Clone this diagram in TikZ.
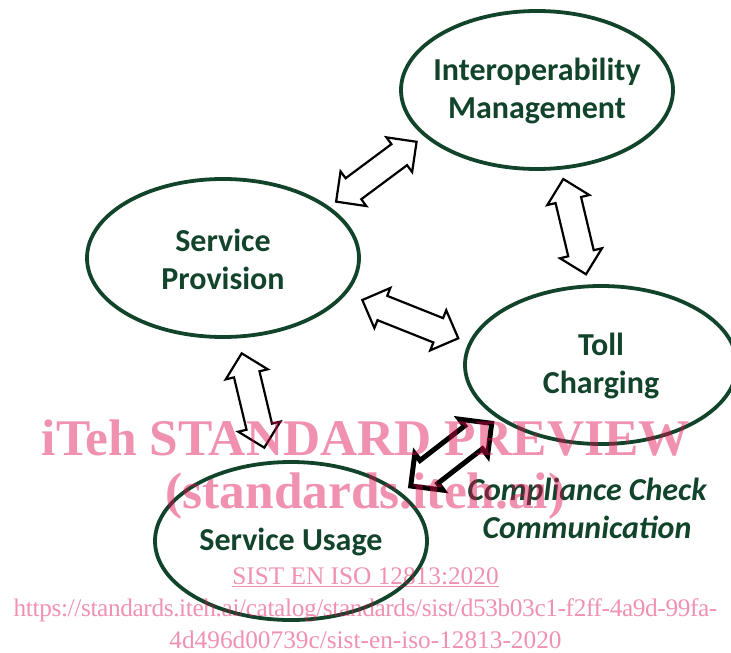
\documentclass[tikz,border=0pt]{standalone}
\usepackage{fontspec}
\setmainfont{Carlito}
\newfontfamily\wmfont{Liberation Serif}
\newfontfamily\wmtight[LetterSpace=-1.46]{Liberation Serif}
\usetikzlibrary{shapes.geometric,shapes.arrows,calc}
\definecolor{dkgreen}{RGB}{18,68,44}
\definecolor{wmpink}{RGB}{222,11,78}
\tikzset{
  oval/.style={ellipse,draw=dkgreen,line width=3.8pt,inner sep=0pt,outer sep=0pt,minimum width=272pt,minimum height=158pt},
  ovaltext/.style={text=dkgreen,font=\fontsize{32}{38}\selectfont\bfseries,align=center,inner sep=0pt,yshift=-1pt},
  blockarrow/.style={double arrow,draw=black,fill=white,line width=2.2pt,inner sep=0pt,outer sep=0pt,
    minimum width=41pt,double arrow head extend=8.5pt,double arrow tip angle=90,double arrow head indent=0pt,anchor=center},
  thickarrow/.style={blockarrow,line width=5pt,fill=none},
  caption/.style={text=dkgreen,font=\fontsize{32}{38}\selectfont\bfseries\itshape,align=center,inner sep=0pt},
  wmbig/.style={text=wmpink,opacity=.45,font=\wmfont\fontsize{51.4}{58}\selectfont\bfseries,align=center,inner sep=0pt},
  wmsmall/.style={text=wmpink,opacity=.45,font=\wmfont\fontsize{25.3}{32}\selectfont,align=center,inner sep=0pt},
}
\newcommand{\blockbetween}[4]{%
  \path let \p1=($(#3)-(#2)$), \n1={atan2(\y1,\x1)}, \n2={veclen(\x1,\y1)} in
    node[#1,rotate=\n1,minimum height=\n2] (#4) at ($(#2)!.5!(#3)$) {\rule{0pt}{24pt}};}
\begin{document}
\begin{tikzpicture}[x=1pt,y=-1pt]
\useasboundingbox (0,0) rectangle (731,653);
\node[oval,label={[ovaltext,name=interoptext]center:Interoperability\\Management}] (interop) at (537,90) {};
\node[oval,label={[ovaltext,name=provisiontext]center:Service\\Provision}] (provision) at (223,258) {};
\node[oval,label={[ovaltext,name=tolltext]center:Toll\\Charging}] (toll) at (601,365) {};
\node[oval,label={[ovaltext,name=usagetext]center:Service Usage}] (usage) at (291,541) {};
\coordinate (a1) at (416.7,141.7); \coordinate (a2) at (336,201.7);
\coordinate (b1) at (563.3,179);   \coordinate (b2) at (586,274.3);
\coordinate (c1) at (362.3,300);   \coordinate (c2) at (458.3,338.3);
\coordinate (d1) at (241.7,353.3); \coordinate (d2) at (264.3,447.7);
\coordinate (e1) at (491.7,423.3); \coordinate (e2) at (410.7,486);
\blockbetween{blockarrow}{a1}{a2}{arrowa}
\blockbetween{blockarrow}{b1}{b2}{arrowb}
\blockbetween{blockarrow}{c1}{c2}{arrowc}
\blockbetween{blockarrow}{d1}{d2}{arrowd}
\blockbetween{thickarrow}{e1}{e2}{arrowe}
\node[caption] (compliance) at (587,508) {Compliance Check\\Communication};
\node[wmbig] (wm1) at (366,438) {iTeh STANDARD PREVIEW};
\node[wmbig] (wm2) at (365.5,496) {(standards.iteh.ai)};
\node[wmsmall] (wm3) at (365.5,577) {\underline{SIST EN ISO 12813:2020}};
\node[wmsmall] (wm4) at (365.5,624) {{\wmtight https://standards.iteh.ai/catalog/standards/sist/d53b03c1-f2ff-4a9d-99fa-}\\4d496d00739c/sist-en-iso-12813-2020};
\end{tikzpicture}
\end{document}
